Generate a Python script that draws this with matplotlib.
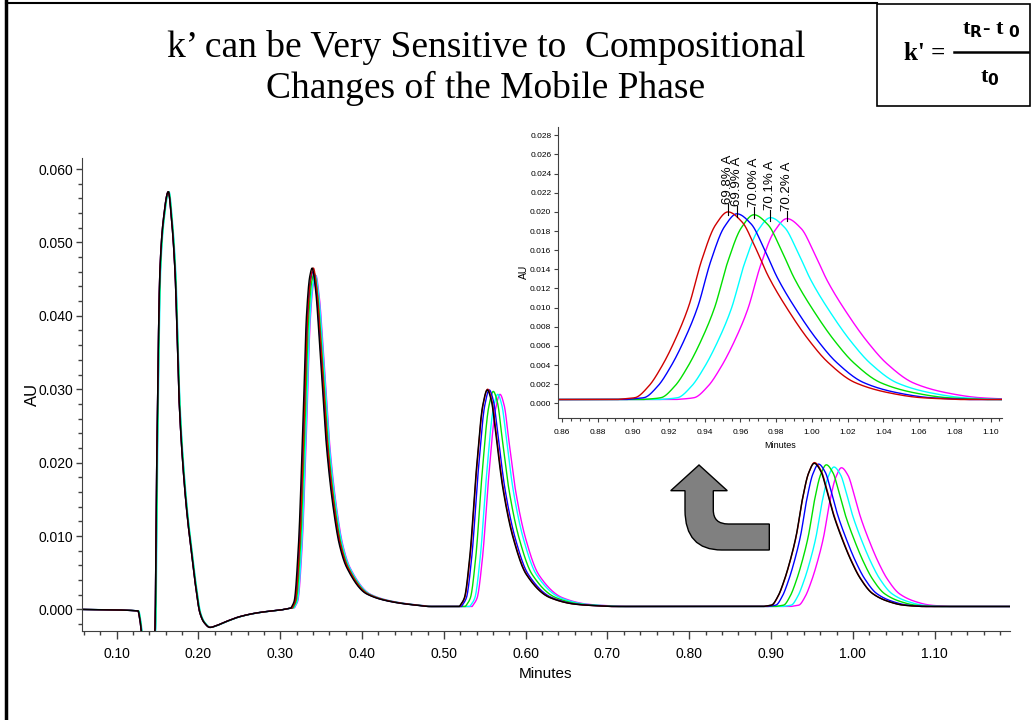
import numpy as np
import matplotlib.pyplot as plt
from matplotlib.path import Path
from matplotlib.patches import PathPatch, Rectangle
from matplotlib.ticker import MultipleLocator, FormatStrFormatter

W, H = 1034, 720

# runs (draw order: back to front)
run_names = ["70.2% A", "70.1% A", "70.0% A", "69.9% A", "69.8% A", "69.8% A (rep)"]
run_colors = ["#ff00ff", "#00ffff", "#00e000", "#0000ff", "#d00000", "#000000"]

p1_t = [0.057, 0.126, 0.1285, 0.1318, 0.140, 0.1468, 0.1489, 0.1529, 0.157, 0.1631,
        0.1672, 0.1713, 0.1765, 0.1814, 0.1865, 0.1917, 0.1965, 0.2018, 0.207, 0.214,
        0.222, 0.235, 0.250, 0.270, 0.290, 0.310]
p1_y = [0.0, -0.0002, -0.0015, -0.0045, -0.008, -0.0028, 0.019, 0.0462, 0.053, 0.0569,
        0.053, 0.0461, 0.0281, 0.019, 0.0125, 0.0076, 0.0032, -0.0005, -0.0018, -0.00245,
        -0.0022, -0.0016, -0.0010, -0.0005, -0.0002, 0.0]
p1_shift = [0.0005, 0.001, 0.0005, 0.0, 0.0, 0.0]

base_t = [0.057, 0.300, 0.330, 1.192]
base_y = [0.0, 0.0, 0.0004, 0.0004]

# peak shapes: offset from apex (min) vs fraction of apex height
p2_off = [-0.026, -0.022, -0.017, -0.011, -0.007, -0.003, 0.0, 0.004, 0.0095, 0.0177,
          0.0258, 0.033, 0.042, 0.0666, 0.099, 0.14]
p2_rel = [0.0, 0.02, 0.174, 0.563, 0.858, 0.975, 1.0, 0.94, 0.76, 0.467,
          0.29, 0.185, 0.116, 0.037, 0.013, 0.0]
p3_off = [-0.034, -0.028, -0.0215, -0.0135, -0.0055, 0.0, 0.005, 0.011, 0.019, 0.0315,
          0.0475, 0.0765, 0.1085, 0.15]
p3_rel = [0.0, 0.04, 0.226, 0.625, 0.929, 1.0, 0.95, 0.777, 0.547, 0.318,
          0.149, 0.041, 0.01, 0.0]
p4_off = [-0.062, -0.052, -0.0444, -0.037, -0.0295, -0.022, -0.0146, -0.007, 0.0,
          0.008, 0.015, 0.0227, 0.034, 0.045, 0.056, 0.071, 0.090, 0.108, 0.130]
p4_rel = [0.0, 0.01, 0.071, 0.178, 0.32, 0.497, 0.746, 0.93, 1.0,
          0.945, 0.817, 0.655, 0.472, 0.32, 0.198, 0.091, 0.036, 0.01, 0.0]

# apex time / height above baseline per run
p2_rt = [0.3435, 0.343, 0.3415, 0.340, 0.3405, 0.339]
p2_h = [0.0451, 0.0451, 0.0454, 0.0456, 0.0461, 0.0461]
p3_rt = [0.5686, 0.5658, 0.5604, 0.5555, 0.5535, 0.553]
p3_h = [0.0289, 0.0289, 0.0293, 0.0295, 0.0296, 0.0295]
p4_rt = [0.986, 0.9768, 0.9675, 0.958, 0.953, 0.9527]
p4_h = [0.0189, 0.0190, 0.0193, 0.0194, 0.0196, 0.0195]

t = np.linspace(0.057, 1.192, 5000)


def smooth_through(x, xp, yp):
    xp = np.asarray(xp, float)
    yp = np.asarray(yp, float)
    h = np.diff(xp)
    d = np.diff(yp) / h
    m = np.zeros_like(yp)
    m[0], m[-1] = d[0], d[-1]
    for k in range(1, len(xp) - 1):
        if d[k - 1] * d[k] > 0:
            w1 = 2 * h[k] + h[k - 1]
            w2 = h[k] + 2 * h[k - 1]
            m[k] = (w1 + w2) / (w1 / d[k - 1] + w2 / d[k])
    xc = np.clip(x, xp[0], xp[-1])
    k = np.clip(np.searchsorted(xp, xc) - 1, 0, len(xp) - 2)
    s = (xc - xp[k]) / h[k]
    h00 = 2 * s**3 - 3 * s**2 + 1
    h10 = s**3 - 2 * s**2 + s
    h01 = -2 * s**3 + 3 * s**2
    h11 = s**3 - s**2
    return h00 * yp[k] + h10 * h[k] * m[k] + h01 * yp[k + 1] + h11 * h[k] * m[k + 1]


def trace(i):
    y = smooth_through(t - p1_shift[i], p1_t, p1_y) + np.interp(t, base_t, base_y)
    for off, rel, rt, h in ((p2_off, p2_rel, p2_rt, p2_h),
                            (p3_off, p3_rel, p3_rt, p3_h),
                            (p4_off, p4_rel, p4_rt, p4_h)):
        y = y + h[i] * smooth_through(t - rt[i], off, rel)
    return y


sans = ["Liberation Sans", "DejaVu Sans"]

fig = plt.figure(figsize=(W / 100, H / 100), dpi=100)
fig.patch.set_facecolor("white")


def fx(px):
    return px / W


def fy(py):
    return 1 - py / H


# main chromatogram
ax = fig.add_axes([fx(81.7), fy(630.7), fx(1010 - 81.7), (630.7 - 158) / H])
for i in range(len(run_names)):
    ax.plot(t, trace(i), color=run_colors[i], lw=1.0)
ax.set_xlim(0.0573, 1.192)
ax.set_ylim(-0.0029, 0.0615)
ax.xaxis.set_major_locator(MultipleLocator(0.10))
ax.xaxis.set_minor_locator(MultipleLocator(0.02))
ax.yaxis.set_major_locator(MultipleLocator(0.010))
ax.yaxis.set_minor_locator(MultipleLocator(0.002))
ax.xaxis.set_major_formatter(FormatStrFormatter("%.2f"))
ax.yaxis.set_major_formatter(FormatStrFormatter("%.3f"))
ax.spines["top"].set_visible(False)
ax.spines["right"].set_visible(False)
for s in ("left", "bottom"):
    ax.spines[s].set_color("#404040")
ax.tick_params(which="major", length=6, width=1, color="#404040", labelsize=10)
ax.tick_params(axis="y", which="major", length=4, pad=2)
ax.tick_params(axis="x", which="major", pad=6)
ax.tick_params(which="minor", length=3, width=1, color="#404040")
for lab in ax.get_xticklabels() + ax.get_yticklabels():
    lab.set_family(sans)
ax.set_xlabel("Minutes", family=sans, fontsize=11, labelpad=4)
ax.set_ylabel("AU", family=sans, fontsize=12, labelpad=-1)

# inset zoom of the last peak
ins = fig.add_axes([fx(558.3), fy(417.7), fx(1002.3 - 558.3), (417.7 - 126.7) / H])
for i in range(5):
    ins.plot(t, trace(i), color=run_colors[i], lw=1.0)
ins.set_xlim(0.858, 1.1066)
ins.set_ylim(-0.0015, 0.0289)
ins.xaxis.set_major_locator(MultipleLocator(0.02))
ins.xaxis.set_minor_locator(MultipleLocator(0.005))
ins.yaxis.set_major_locator(MultipleLocator(0.002))
ins.xaxis.set_major_formatter(FormatStrFormatter("%.2f"))
ins.yaxis.set_major_formatter(FormatStrFormatter("%.3f"))
ins.spines["top"].set_visible(False)
ins.spines["right"].set_visible(False)
for s in ("left", "bottom"):
    ins.spines[s].set_color("#404040")
ins.tick_params(which="major", length=3, width=0.8, color="#404040", labelsize=6)
ins.tick_params(axis="x", which="major", pad=5)
ins.tick_params(axis="y", which="major", pad=2)
ins.tick_params(which="minor", length=2, width=0.8, color="#404040")
for lab in ins.get_xticklabels() + ins.get_yticklabels():
    lab.set_family(sans)
ins.set_xlabel("Minutes", family=sans, fontsize=6.5, labelpad=4)
ins.set_ylabel("AU", family=sans, fontsize=7.5, labelpad=1)

for i in range(5):
    x0 = p4_rt[i]
    y0 = p4_h[i] + 0.0004
    ins.plot([x0, x0], [y0 - 0.0003, y0 + 0.0008], color="black", lw=0.8)
    ins.text(x0, y0 + 0.0008, run_names[i], rotation=90, ha="center", va="bottom",
             fontsize=9.5, family=sans)

# title
fig.text(fx(486), fy(68), "k\u2019 can be Very Sensitive to  Compositional\nChanges of the Mobile Phase",
         ha="center", va="center", fontsize=27, family=["Liberation Serif", "DejaVu Serif"],
         linespacing=1.2)

# formula box
fig.patches.append(Rectangle((fx(877), fy(106)), fx(1030 - 877), (106 - 4) / H,
                             transform=fig.transFigure, fill=False, lw=1.2, ec="black"))
serif_b = dict(family=["Liberation Serif", "DejaVu Serif"], weight="bold")
fig.text(fx(925), fy(53), "k' =", ha="center", va="center", fontsize=18, **serif_b)
fig.text(fx(991), fy(30), r"t$_{\mathbf{R}}$- t $_{\mathbf{0}}$", ha="center", va="center",
         fontsize=16, **serif_b)
fig.lines.append(plt.Line2D([fx(954), fx(1028)], [fy(52), fy(52)], transform=fig.transFigure,
                            color="black", lw=1.8))
fig.text(fx(990), fy(78), r"t$_{\mathbf{0}}$", ha="center", va="center", fontsize=16, **serif_b)

# slide frame lines (left and top)
fig.lines.append(plt.Line2D([fx(6), fx(6)], [0, 1], transform=fig.transFigure,
                            color="black", lw=2.5))
fig.lines.append(plt.Line2D([fx(6), fx(877)], [fy(3), fy(3)], transform=fig.transFigure,
                            color="black", lw=1.5))

# curved arrow pointing up to the inset (pixel outline)
arrow_px = [(699, 465), (727.3, 490.7), (713.3, 490.7), (713.3, 510),
            (713.3, 524), (728.3, 524), (769.3, 524), (769.3, 550),
            (721.7, 550), (685, 550), (685, 510), (685, 490.7), (670.7, 490.7), (699, 465)]
arrow_codes = [Path.MOVETO, Path.LINETO, Path.LINETO, Path.LINETO,
               Path.CURVE3, Path.CURVE3, Path.LINETO, Path.LINETO,
               Path.LINETO, Path.CURVE3, Path.CURVE3, Path.LINETO, Path.LINETO, Path.CLOSEPOLY]
verts = [(fx(x), fy(y)) for x, y in arrow_px]
fig.patches.append(PathPatch(Path(verts, arrow_codes), transform=fig.transFigure,
                             facecolor="#808080", edgecolor="black", lw=1.0))

fig.savefig("out.png", dpi=100)
